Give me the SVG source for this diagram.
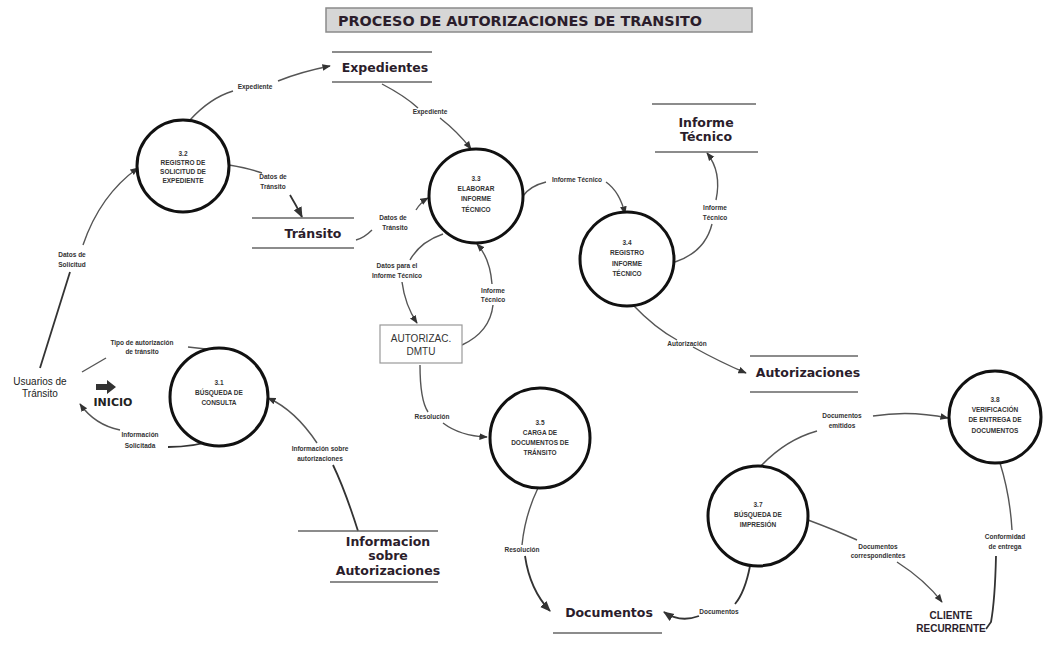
<svg xmlns="http://www.w3.org/2000/svg" width="1046" height="648" viewBox="0 0 1046 648">
<defs>
<marker id="ah" viewBox="0 0 10 10" refX="9" refY="5" markerWidth="6" markerHeight="6" orient="auto-start-reverse">
<path d="M0,1 L10,5 L0,9 Z" fill="#333"/>
</marker>
<style>
.bg{fill:#ffffff}
.proc{fill:#ffffff;stroke:#111;stroke-width:3}
.ptx{font-family:"Liberation Sans",Arial,sans-serif;font-size:6.5px;font-weight:bold;fill:#333;text-anchor:middle}
.store{stroke:#666;stroke-width:1.6}
.stx{font-family:"DejaVu Sans",Verdana,sans-serif;font-size:12.5px;font-weight:bold;fill:#2b1d2b;text-anchor:middle}
.lbl{font-family:"Liberation Sans",Arial,sans-serif;font-size:6.5px;font-weight:bold;fill:#333;text-anchor:middle}
.ext{font-family:"Liberation Sans",Arial,sans-serif;font-size:10px;fill:#222;text-anchor:middle}
.fl{fill:none;stroke:#555;stroke-width:1.4}
.fld{fill:none;stroke:#333;stroke-width:1.8}
</style>
</defs>
<rect class="bg" x="0" y="0" width="1046" height="648"/>

<g id="title">
<rect x="326" y="8" width="426" height="24" fill="#d6d6d6" stroke="#8a8a8a" stroke-width="1.5"/>
<text x="338" y="26" font-family="DejaVu Sans, Verdana, sans-serif" font-size="14" font-weight="bold" fill="#2b1d2b" textLength="364" lengthAdjust="spacingAndGlyphs">PROCESO DE AUTORIZACIONES DE TRANSITO</text>
</g>

<g id="connectors">
<path class="fl" d="M190,120 Q210,98 233,91"/>
<path class="fl" d="M278,81 Q300,72 330,66" marker-end="url(#ah)"/>
<path class="fl" d="M229,165 Q248,168 262,173"/>
<path class="fld" d="M290,195 Q296,205 302,217" marker-end="url(#ah)"/>
<path class="fl" d="M382,84 Q405,96 418,108"/>
<path class="fl" d="M440,118 Q458,132 471,149" marker-end="url(#ah)"/>
<path class="fl" d="M356,240 Q364,238 372,230"/>
<path class="fl" d="M416,210 Q421,202 428,198" marker-end="url(#ah)"/>
<path class="fl" d="M523,196 Q530,186 546,182"/>
<path class="fl" d="M606,182 Q620,192 625,214" marker-end="url(#ah)"/>
<path class="fl" d="M675,262 Q705,252 712,224"/>
<path class="fl" d="M716,200 Q722,172 707,153" marker-end="url(#ah)"/>
<path class="fl" d="M633,305 Q655,328 677,340"/>
<path class="fl" d="M693,347 Q720,362 746,373" marker-end="url(#ah)"/>
<path class="fl" d="M443,234 Q420,242 410,260"/>
<path class="fl" d="M402,282 Q405,305 417,323" marker-end="url(#ah)"/>
<path class="fl" d="M462,345 Q490,332 493,305"/>
<path class="fl" d="M492,284 Q490,258 477,244" marker-end="url(#ah)"/>
<path class="fl" d="M420,365 Q420,400 428,412"/>
<path class="fl" d="M443,423 Q460,436 487,437" marker-end="url(#ah)"/>
<path class="fl" d="M538,488 Q525,515 522,545"/>
<path class="fld" d="M525,556 Q530,590 550,611" marker-end="url(#ah)"/>
<path class="fld" d="M750,566 Q745,592 735,604"/>
<path class="fld" d="M699,616 Q680,623 664,612" marker-end="url(#ah)"/>
<path class="fl" d="M760,467 Q785,440 817,431"/>
<path class="fl" d="M873,416 Q910,410 948,418" marker-end="url(#ah)"/>
<path class="fl" d="M808,520 Q835,530 857,540"/>
<path class="fl" d="M897,562 Q925,580 942,602" marker-end="url(#ah)"/>
<path class="fl" d="M1000,463 Q1010,495 1012,530"/>
<path class="fld" d="M996,556 Q995,600 991,622 L986,629"/>
<path class="fld" d="M40,368 L70,272"/>
<path class="fl" d="M83,245 Q100,195 138,168" marker-end="url(#ah)"/>
<path class="fl" d="M82,372 L106,358"/>
<path class="fl" d="M188,347 L206,349"/>
<path class="fld" d="M213,440 Q195,447 168,447"/>
<path class="fl" d="M120,430 Q95,425 80,404" marker-end="url(#ah)"/>
<path class="fld" d="M358,531 Q345,490 333,465"/>
<path class="fl" d="M317,443 Q295,410 268,398" marker-end="url(#ah)"/>
</g>

<g id="labels">
<text class="lbl" x="255" y="89">Expediente</text>
<text class="lbl" x="273" y="179">Datos de</text>
<text class="lbl" x="273" y="189">Tránsito</text>
<text class="lbl" x="430" y="114">Expediente</text>
<text class="lbl" x="393" y="220">Datos de</text>
<text class="lbl" x="395" y="230">Tránsito</text>
<text class="lbl" x="577" y="182">Informe Técnico</text>
<text class="lbl" x="715" y="210">Informe</text>
<text class="lbl" x="715" y="220">Técnico</text>
<text class="lbl" x="687" y="346">Autorización</text>
<text class="lbl" x="397" y="268">Datos para el</text>
<text class="lbl" x="397" y="278">Informe Técnico</text>
<text class="lbl" x="493" y="293">Informe</text>
<text class="lbl" x="493" y="302">Técnico</text>
<text class="lbl" x="432" y="419">Resolución</text>
<text class="lbl" x="522" y="552">Resolución</text>
<text class="lbl" x="719" y="614">Documentos</text>
<text class="lbl" x="842" y="418">Documentos</text>
<text class="lbl" x="842" y="428">emitidos</text>
<text class="lbl" x="878" y="549">Documentos</text>
<text class="lbl" x="878" y="558">correspondientes</text>
<text class="lbl" x="1005" y="539">Conformidad</text>
<text class="lbl" x="1005" y="549">de entrega</text>
<text class="lbl" x="72" y="257">Datos de</text>
<text class="lbl" x="72" y="267">Solicitud</text>
<text class="lbl" x="142" y="345">Tipo de autorización</text>
<text class="lbl" x="142" y="354">de tránsito</text>
<text class="lbl" x="140" y="437">Información</text>
<text class="lbl" x="140" y="448">Solicitada</text>
<text class="lbl" x="320" y="451">Información sobre</text>
<text class="lbl" x="320" y="461">autorizaciones</text>
</g>

<g id="p32">
<circle class="proc" cx="183" cy="166" r="46"/>
<text class="ptx" x="183" y="156">3.2</text>
<text class="ptx" x="183" y="165">REGISTRO DE</text>
<text class="ptx" x="183" y="174">SOLICITUD DE</text>
<text class="ptx" x="183" y="183">EXPEDIENTE</text>
</g>
<g id="p33">
<circle class="proc" cx="476" cy="196" r="47"/>
<text class="ptx" x="476" y="181">3.3</text>
<text class="ptx" x="476" y="191">ELABORAR</text>
<text class="ptx" x="476" y="201">INFORME</text>
<text class="ptx" x="476" y="212">TÉCNICO</text>
</g>
<g id="p34">
<circle class="proc" cx="627" cy="259" r="47"/>
<text class="ptx" x="627" y="245">3.4</text>
<text class="ptx" x="627" y="255">REGISTRO</text>
<text class="ptx" x="627" y="266">INFORME</text>
<text class="ptx" x="627" y="276">TÉCNICO</text>
</g>
<g id="p35">
<circle class="proc" cx="540" cy="438" r="50"/>
<text class="ptx" x="540" y="425">3.5</text>
<text class="ptx" x="540" y="435">CARGA DE</text>
<text class="ptx" x="540" y="445">DOCUMENTOS DE</text>
<text class="ptx" x="540" y="455">TRÁNSITO</text>
</g>
<g id="p31">
<circle class="proc" cx="219" cy="397" r="49"/>
<text class="ptx" x="219" y="385">3.1</text>
<text class="ptx" x="219" y="395">BÚSQUEDA DE</text>
<text class="ptx" x="219" y="405">CONSULTA</text>
</g>
<g id="p37">
<circle class="proc" cx="758" cy="516" r="50"/>
<text class="ptx" x="758" y="507">3.7</text>
<text class="ptx" x="758" y="517">BÚSQUEDA DE</text>
<text class="ptx" x="758" y="527">IMPRESIÓN</text>
</g>
<g id="p38">
<circle class="proc" cx="995" cy="417" r="46"/>
<text class="ptx" x="995" y="402">3.8</text>
<text class="ptx" x="995" y="412">VERIFICACIÓN</text>
<text class="ptx" x="995" y="422">DE ENTREGA DE</text>
<text class="ptx" x="995" y="433">DOCUMENTOS</text>
</g>

<g id="dmtu">
<rect x="380" y="325" width="82" height="38" fill="#fff" stroke="#999" stroke-width="1.2"/>
<text x="421" y="342" font-family="Liberation Sans, Arial, sans-serif" font-size="10" fill="#333" text-anchor="middle">AUTORIZAC.</text>
<text x="421" y="355" font-family="Liberation Sans, Arial, sans-serif" font-size="10" fill="#333" text-anchor="middle">DMTU</text>
</g>

<g id="s_expedientes">
<line class="store" x1="332" y1="52" x2="432" y2="52"/>
<line class="store" x1="332" y1="82" x2="432" y2="82"/>
<text class="stx" x="385" y="72">Expedientes</text>
</g>
<g id="s_transito">
<line class="store" x1="252" y1="218" x2="354" y2="218"/>
<line class="store" x1="252" y1="248" x2="354" y2="248"/>
<text class="stx" x="313" y="238">Tránsito</text>
</g>
<g id="s_informe">
<line class="store" x1="652" y1="104" x2="756" y2="104"/>
<line class="store" x1="655" y1="152" x2="758" y2="152"/>
<text class="stx" x="706" y="127">Informe</text>
<text class="stx" x="706" y="141">Técnico</text>
</g>
<g id="s_autorizaciones">
<line class="store" x1="750" y1="356" x2="858" y2="356"/>
<line class="store" x1="750" y1="392" x2="858" y2="392"/>
<text class="stx" x="808" y="377">Autorizaciones</text>
</g>
<g id="s_info">
<line class="store" x1="298" y1="531" x2="438" y2="531"/>
<line class="store" x1="330" y1="582" x2="438" y2="582"/>
<text class="stx" x="388" y="546">Informacion</text>
<text class="stx" x="388" y="560">sobre</text>
<text class="stx" x="388" y="575">Autorizaciones</text>
</g>
<g id="s_documentos">
<line class="store" x1="553" y1="633" x2="662" y2="633"/>
<text class="stx" x="609" y="617">Documentos</text>
</g>

<g id="usuarios">
<text class="ext" x="40" y="385">Usuarios de</text>
<text class="ext" x="40" y="397">Tránsito</text>
</g>
<g id="inicio">
<path d="M96,384 L107,384 L107,380 L116,387 L107,394 L107,390 L96,390 Z" fill="#333"/>
<text x="113" y="406" font-family="DejaVu Sans, Verdana, sans-serif" font-size="11" font-weight="bold" fill="#222" text-anchor="middle">INICIO</text>
</g>
<g id="cliente">
<text x="951" y="619" font-family="Liberation Sans, Arial, sans-serif" font-size="10" font-weight="bold" fill="#2b1d2b" text-anchor="middle">CLIENTE</text>
<text x="951" y="632" font-family="Liberation Sans, Arial, sans-serif" font-size="10" font-weight="bold" fill="#2b1d2b" text-anchor="middle">RECURRENTE</text>
</g>
</svg>
